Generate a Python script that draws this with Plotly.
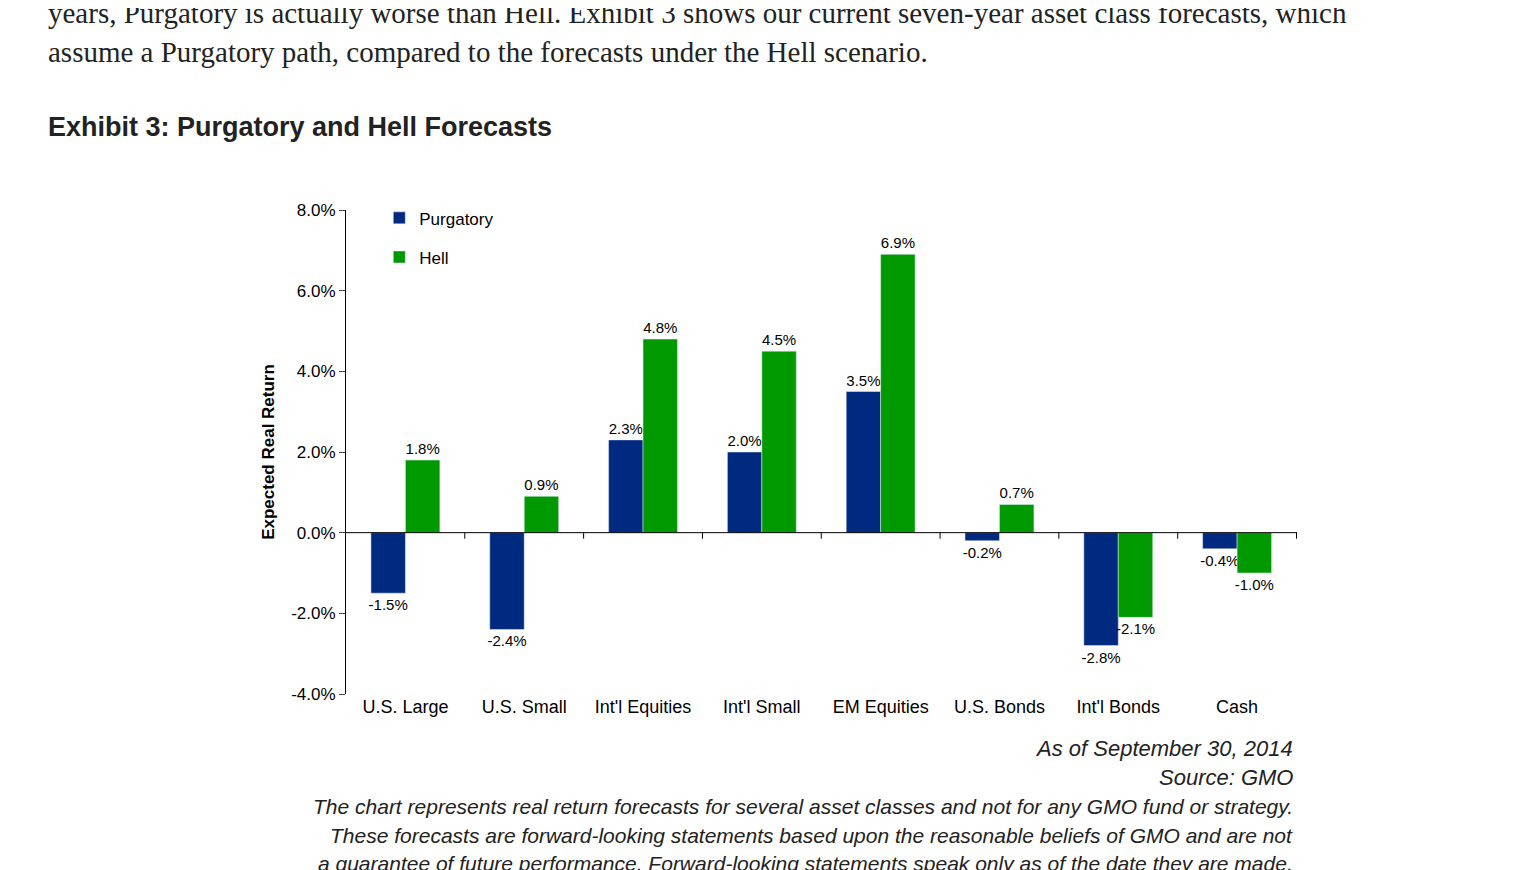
import plotly.graph_objects as go

# Data
categories = ["U.S. Large", "U.S. Small", "Int'l Equities", "Int'l Small",
              "EM Equities", "U.S. Bonds", "Int'l Bonds", "Cash"]
purgatory = [-1.5, -2.4, 2.3, 2.0, 3.5, -0.2, -2.8, -0.4]
hell = [1.8, 0.9, 4.8, 4.5, 6.9, 0.7, -2.1, -1.0]
y_ticks = [-4, -2, 0, 2, 4, 6, 8]

navy = '#002A7F'
green = '#009A00'
font = 'Liberation Sans, Arial, sans-serif'

L, R, T, B = 338, 247, 202, 184
PW, PH = 1536 - L - R, 870 - T - B

fig = go.Figure()
for name, vals, col in [('Purgatory', purgatory, navy), ('Hell', hell, green)]:
    fig.add_trace(go.Bar(
        x=categories, y=vals, name=name, marker_color=col, legendgroup=name,
        text=[f'{v:.1f}%' for v in vals], textposition='outside',
        textfont=dict(size=15, color='black', family=font),
        constraintext='none', cliponaxis=False,
    ))

fig.update_layout(
    width=1536, height=870,
    paper_bgcolor='white', plot_bgcolor='white',
    margin=dict(l=L, r=R, t=T, b=B),
    barmode='group', bargap=0.42, bargroupgap=0,
    font=dict(family=font, size=17, color='black'),
    legend=dict(x=0.035, y=1.02, xanchor='left', yanchor='top',
                font=dict(size=17), tracegroupgap=14, itemwidth=30,
                bgcolor='rgba(0,0,0,0)'),
    xaxis=dict(showline=False, ticks='', tickfont=dict(size=18),
               showgrid=False),
    yaxis=dict(range=[-4, 8], tickvals=y_ticks,
               ticktext=[f'{v:.1f}%' for v in y_ticks],
               showgrid=False, zeroline=False, showline=True,
               linecolor='black', linewidth=1, ticks='outside', ticklen=6,
               tickfont=dict(size=17),
               title=dict(text='<b>Expected Real Return</b>', font=dict(size=17), standoff=12)),
)

# zero line with category separator ticks
fig.add_shape(type='line', xref='paper', yref='y', x0=0, x1=1, y0=0, y1=0,
              line=dict(color='black', width=1))
for i in range(len(categories)):
    fig.add_shape(type='line', xref='x', yref='y', x0=i + 0.5, x1=i + 0.5,
                  y0=0, y1=-0.15, line=dict(color='black', width=1))

serif = 'Liberation Serif, Times New Roman, serif'
texts = [
    (38, 5, 'years, Purgatory is actually worse than Hell. Exhibit 3 shows our current seven-year asset class forecasts, which', serif, 29, 'left'),
    (38, 44, 'assume a Purgatory path, compared to the forecasts under the Hell scenario.', serif, 29, 'left'),
    (38, 119, '<b>Exhibit 3: Purgatory and Hell Forecasts</b>', font, 27, 'left'),
    (1287, 740, '<i>As of September 30, 2014</i>', font, 22, 'right'),
    (1287, 769, '<i>Source: GMO</i>', font, 22, 'right'),
    (1287, 798, '<i>The chart represents real return forecasts for several asset classes and not for any GMO fund or strategy.</i>', font, 21, 'right'),
    (1287, 827, '<i>These forecasts are forward-looking statements based upon the reasonable beliefs of GMO and are not</i>', font, 21, 'right'),
    (1287, 855, '<i>a guarantee of future performance. Forward-looking statements speak only as of the date they are made,</i>', font, 21, 'right'),
]
for x, y, t, f, s, anc in texts:
    fig.add_annotation(x=(x - L) / PW, y=(870 - B - y) / PH, xref='paper', yref='paper',
                       text=t, showarrow=False, xanchor=anc, yanchor='middle',
                       font=dict(family=f, size=s, color='#222'))

fig.write_html("out.html")
